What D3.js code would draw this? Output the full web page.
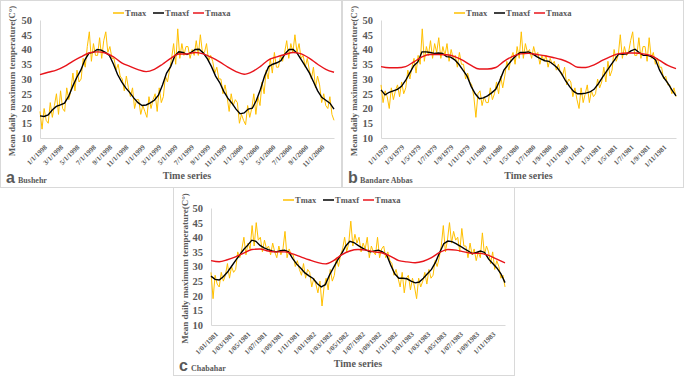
<!DOCTYPE html>
<html>
<head>
<meta charset="utf-8">
<script src="https://cdn.jsdelivr.net/npm/d3@7"></script>
<style>
  body { margin: 0; background: #fff; }
  text { font-family: "Liberation Serif", "Times New Roman", serif; font-weight: bold; fill: #595959; }
</style>
</head>
<body>
<div id="chart"></div>
<script>
// tick labels, one every two months
const bushehrTicks = ["1/1/1998","3/1/1998","5/1/1998","7/1/1998","9/1/1998","11/1/1998",
  "1/1/1999","3/1/1999","5/1/1999","7/1/1999","9/1/1999","11/1/1999",
  "1/1/2000","3/1/2000","5/1/2000","7/1/2000","9/1/2000","11/1/2000"];
const abbasTicks = ["1/1/1979","1/3/1979","1/5/1979","1/7/1979","1/9/1979","1/11/1979",
  "1/1/1980","1/3/1980","1/5/1980","1/7/1980","1/9/1980","1/11/1980",
  "1/1/1981","1/3/1981","1/5/1981","1/7/1981","1/9/1981","1/11/1981"];
const chabaharTicks = ["1/01/1981","1/03/1981","1/05/1981","1/07/1981","1/09/1981","1/11/1981",
  "1/01/1982","1/03/1982","1/05/1982","1/07/1982","1/09/1982","1/11/1982",
  "1/01/1983","1/03/1983","1/05/1983","1/07/1983","1/09/1983","1/11/1983"];

// Tmax: ~4 readings per month (36 months)
const bushehrTmax = [19,13,20,16, 15,22,17,21, 25,18,26,20, 19,27,23,26, 32,26,33,29, 30,37,34,41,
  46,36,42,38, 38,44,37,43, 46,39,41,37, 37,33,35,31, 30,26,31,27, 24,27,20,23,
  23,18,21,19, 17,24,20,23, 25,19,27,22, 24,31,29,33, 37,42,35,47, 37,42,38,41,
  41,37,40,38, 43,38,45,39, 39,42,36,38, 36,32,34,30, 30,25,28,24, 19,25,21,23,
  22,15,18,16, 14.5,21,17,20, 25,18,24,21, 29,25,33,30, 37,32,39,34, 34,38,36,39,
  43,37,42,39, 45,39,42,37, 38,34,37,33, 30,34,27,31, 28,22,25,21, 20,24,18,16];
// Tmaxf: twice a month
const bushehrTmaxf = [17.5,17.3,17.8,19.5,20.7,21.2,21.8,24.1,27.5,30.5,33,36.5,38.8,39,40,39.8,39,38,
  35,31.5,29,27,25.4,23.5,22,21,21.2,21.9,22.8,24.5,28,32,34.2,37.8,39.2,39,38.3,39,40,40.1,38.8,36.8,
  34.2,31,28.8,25.8,23.5,21.8,19.8,18.2,18.5,19.8,20.1,22.8,26.5,31,34.2,35,35.5,36.2,38.5,40,40,38.7,
  36.5,34.3,32,29,26,23.8,22.8,21.8,19.8];
// Tmaxa: monthly
const bushehrTmaxa = [31.5,32.3,33,34.3,36,37.5,38.8,39.2,38.8,37.5,35.5,34.3,33.2,32.5,33.3,35,37,38.5,
  38.5,39,38.5,37.3,35.8,34,32.5,31.6,32.5,34.3,36.5,37.5,38.3,39,38.5,37,35,33.3,32.3];

const abbasTmax = [28,22,26,24, 20,27,23,26, 28,24,29,25, 27,33,30,34, 37,32,38,35, 47,36,41,38,
  43,37,42,39, 44,37,41,38, 42,36,40,37, 38,34,39,35, 35,30,32,29, 28,24,17,25,
  26,21,24,22, 22,27,23,25, 29,25,31,27, 31,36,33,37, 39,35,41,37, 46,37,42,39,
  40,37,41,38, 39,35,38,36, 38,34,37,35, 36,33,35,32, 31,34,28,30, 29,24,27,23,
  20,27,22,25, 28,22,26,24, 25,30,27,29, 34,29,36,31, 33,40,36,38, 45,37,41,38,
  39,43,46,38, 38,44,37,41, 41,36,44,37, 39,35,37,34, 34,30,31,28, 28,25,27,24];
const abbasTmaxf = [26.3,24.6,25.5,26,26.5,27.5,29.5,32,34.5,35.8,39.2,39.2,39,38.7,38.8,38.7,37.6,37.4,
  36.5,35,33,31,27.5,25,23.3,23.6,24.3,25.3,26.5,29.5,33,34.8,36.5,38,39,39,39.2,38.5,37.6,36.8,36.2,36,
  35,33.8,32,29.5,27.5,25.8,25,25,25.2,25.6,26.5,28.3,30.5,32.5,34.5,36.5,38.5,38.4,38.5,39.5,40.1,39,
  38,38,37.6,36.5,33,30.5,28.6,26.3,24.3];
const abbasTmaxa = [34.2,33.8,33.8,34.2,35.8,37.5,38.3,38.3,38.2,37.6,36.3,34.6,33.4,33.4,33.9,36,37.6,
  38.5,38.7,38.3,37.9,37.3,36.6,35.5,34,33.9,34.8,36.3,37.6,38.6,38.8,38.8,38.5,37.9,36.3,34.6,33.5];

const chabaharTmax = [28,19,27,24, 23,28,25,27, 31,26,30,28, 29,35,33,36, 40,34,38,36, 44,37,45,39,
  40,35,39,36, 37,34,38,35, 33,37,34,36, 42,33,36,34, 34,30,32,29, 27,31,26,29,
  28,23,26,24, 21,25,16.5,23, 26,22,29,25, 27,33,30,34, 36,40,35,38, 45.5,37,41,38,
  40,35,38,36, 40,33,37,35, 34,40,33,36, 37,33,35,32, 31,27,29,26, 23,28,21,26,
  27,22,26,23, 19,26,23,25, 28,24,29,26, 27,32,30,33, 37,44,35,39, 45,38,42,39,
  40,35,43,37, 37,33,38,34, 36,32,35,33, 41.5,34,37,35, 31,35,29,32, 30,26,27,23];
const chabaharTmaxf = [26.7,25.6,25.4,26.5,28,30,32,33.9,35.8,37.3,39,38.6,37.2,36.4,35.8,35.3,35,35.4,
  35.6,35,32.7,30.8,29.4,27.8,26.8,25.9,24.2,23,23.8,27,29.6,32.2,34.4,37,38.6,38.2,37.2,36.4,35.6,35,
  35.3,35.6,35,34,30.5,27.5,26,26,25.8,25,24.4,24.7,26,27.5,29,31.5,34.8,37.8,38.7,38.5,37.8,37,36.1,
  35.3,34.4,34.8,35.3,34.8,32.5,31,29.5,27.5,24.5];
const chabaharTmaxa = [32,31.6,32.3,33.3,34.6,35.8,36,35.3,35,35,34.3,33.3,32.3,31.4,30.9,32,34,35.3,
  35.8,35.6,35,34.6,33.5,32,31.6,31.3,31.8,33,34.8,35.8,35.6,35,34.5,34.5,33.8,32.5,31.2];

const yTicks = [10,15,20,25,30,35,40,45,50];
const seriesNames = ["Tmax","Tmaxf","Tmaxa"];
const seriesColors = ["#ffc000","#000000","#e8141b"];

const W = 684, H = 376;
const svg = d3.select("#chart").append("svg")
  .attr("width", W).attr("height", H);

function drawPanel(p) {
  const g = svg.append("g");
  // panel frame
  g.append("rect")
    .attr("x", p.box[0] + 0.5).attr("y", p.box[1] + 0.5)
    .attr("width", p.box[2] - 1).attr("height", p.box[3] - 1)
    .attr("fill", "none").attr("stroke", "#d9d9d9");

  const x = d3.scaleLinear().domain([0, 36]).range([p.left, p.right]);
  const y = d3.scaleLinear().domain([10, 50]).range([p.bottom, p.top]);

  // y axis
  const ya = g.append("g")
    .attr("transform", `translate(${p.left},0)`)
    .call(d3.axisLeft(y).tickValues(yTicks).tickSize(0).tickPadding(8));
  ya.select(".domain").attr("stroke", "#d9d9d9");
  ya.selectAll("text").style("font-size", "10.5px")
    .style("font-family", '"Liberation Serif", serif').attr("fill", "#595959");

  // x axis
  const xa = g.append("g")
    .attr("transform", `translate(0,${p.bottom})`)
    .call(d3.axisBottom(x).tickValues(d3.range(0, 36, 2))
      .tickFormat((d, i) => p.ticks[i]).tickSize(0));
  xa.select(".domain").attr("stroke", "#d9d9d9");
  xa.selectAll("text")
    .style("font-size", "7px")
    .style("font-family", '"Liberation Serif", serif').attr("fill", "#595959")
    .attr("text-anchor", "end")
    .attr("dy", "0.35em")
    .attr("transform", "translate(3,6) rotate(-45)");

  const line = d3.line().x(d => x(d[0])).y(d => y(d[1]));
  const asPts = arr => arr.map((v, i) => [i * 36 / (arr.length - 1), v]);

  g.append("path").datum(asPts(p.tmax))
    .attr("d", line).attr("fill", "none")
    .attr("stroke", seriesColors[0]).attr("stroke-width", 1);
  g.append("path").datum(asPts(p.tmaxf))
    .attr("d", line).attr("fill", "none")
    .attr("stroke", seriesColors[1]).attr("stroke-width", 1.4);
  g.append("path").datum(asPts(p.tmaxa))
    .attr("d", line.curve(d3.curveMonotoneX)).attr("fill", "none")
    .attr("stroke", seriesColors[2]).attr("stroke-width", 1.4);

  // legend
  const lg = g.append("g").attr("transform", `translate(${p.legendX},${p.legendY})`);
  const offs = [0, 40, 80];
  seriesNames.forEach((n, i) => {
    lg.append("line").attr("x1", offs[i]).attr("x2", offs[i] + 11)
      .attr("y1", 0).attr("y2", 0)
      .attr("stroke", seriesColors[i]).attr("stroke-width", 1.5);
    lg.append("text").attr("x", offs[i] + 12).attr("y", 3)
      .style("font-size", "8.5px").text(n);
  });

  // axis titles
  g.append("text")
    .attr("transform", `translate(${p.box[0] + 15},${(p.top + p.bottom) / 2 + 2}) rotate(-90)`)
    .attr("text-anchor", "middle")
    .style("font-size", "9px")
    .text("Mean daily maximum temperature(C°)");
  g.append("text")
    .attr("x", (p.left + p.right) / 2).attr("y", p.box[1] + p.box[3] - 9)
    .attr("text-anchor", "middle")
    .style("font-size", "10px")
    .text("Time series");

  // panel letter and station
  g.append("text")
    .attr("x", p.box[0] + 6).attr("y", p.box[1] + p.box[3] - 5)
    .style("font-family", '"Liberation Sans", Arial, sans-serif')
    .style("font-size", "16px").attr("fill", "#000")
    .text(p.letter);
  g.append("text")
    .attr("x", p.box[0] + 18).attr("y", p.box[1] + p.box[3] - 5)
    .style("font-size", "8px")
    .text(p.station);
}

drawPanel({ box: [0, 0, 342, 188], left: 40, right: 334, top: 20, bottom: 138,
  ticks: bushehrTicks, tmax: bushehrTmax, tmaxf: bushehrTmaxf, tmaxa: bushehrTmaxa,
  legendX: 113, legendY: 13, letter: "a", station: "Bushehr" });
drawPanel({ box: [342, 0, 342, 188], left: 381, right: 676, top: 20, bottom: 138,
  ticks: abbasTicks, tmax: abbasTmax, tmaxf: abbasTmaxf, tmaxa: abbasTmaxa,
  legendX: 454, legendY: 13, letter: "b", station: "Bandare Abbas" });
drawPanel({ box: [173, 187, 342, 189], left: 211, right: 505, top: 208, bottom: 325,
  ticks: chabaharTicks, tmax: chabaharTmax, tmaxf: chabaharTmaxf, tmaxa: chabaharTmaxa,
  legendX: 283, legendY: 200, letter: "c", station: "Chabahar" });
</script>
</body>
</html>
